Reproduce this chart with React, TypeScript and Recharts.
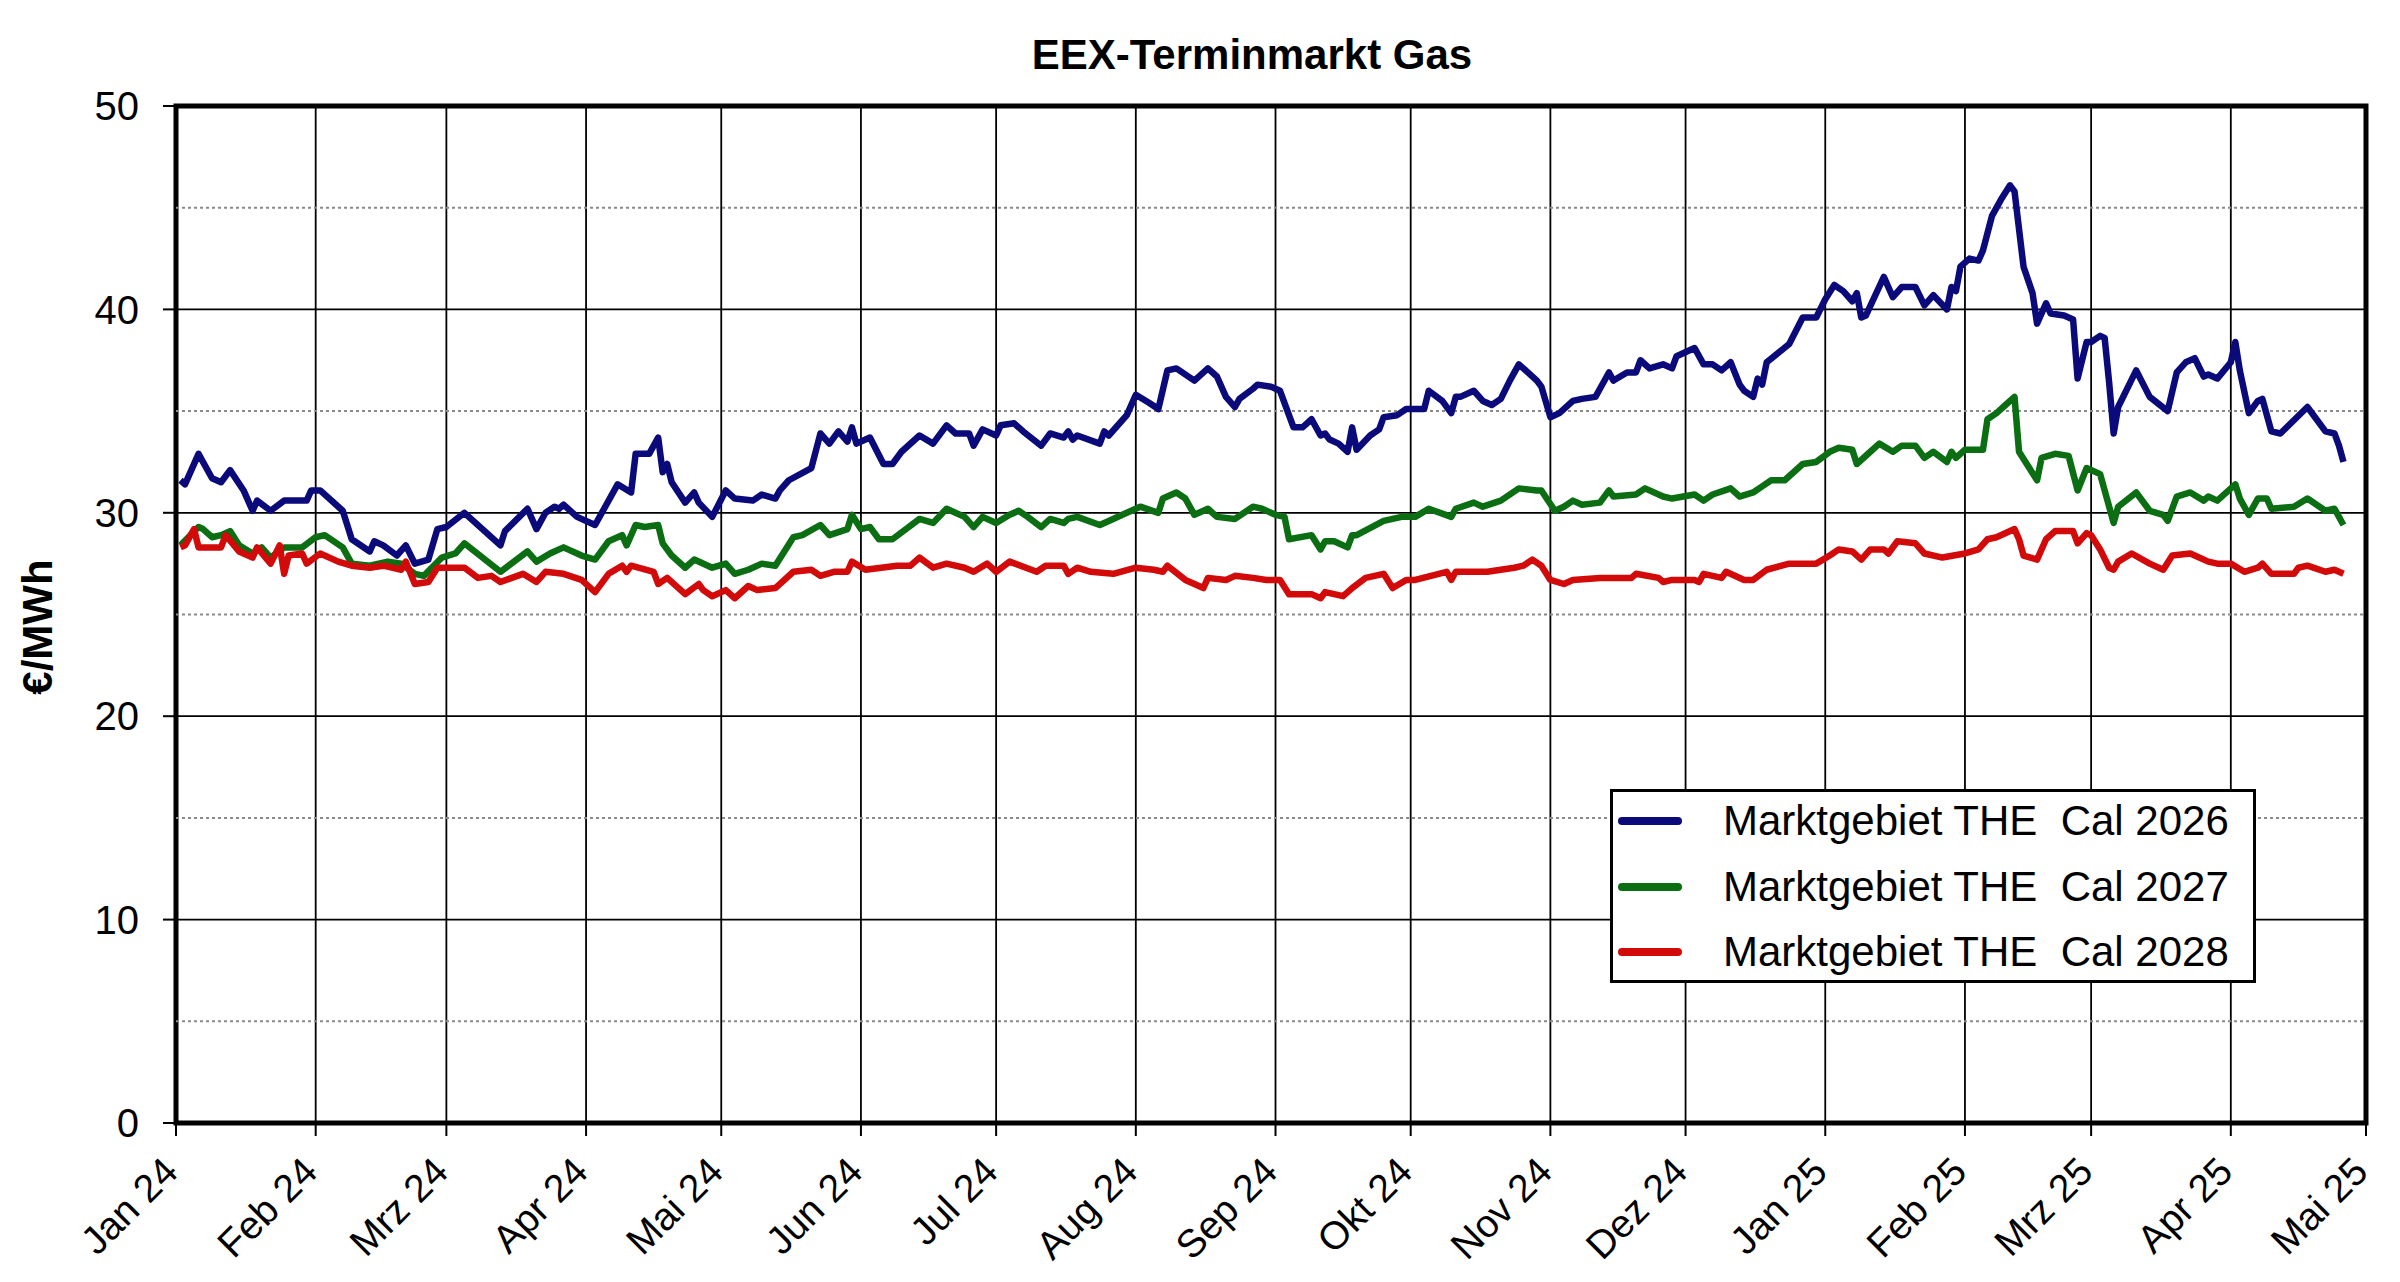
import React from "react";
import {
  LineChart,
  Line,
  XAxis,
  YAxis,
  CartesianGrid,
  ReferenceLine,
  ReferenceArea,
} from "recharts";

const FONT = "'Liberation Sans', Arial, sans-serif";

// x axis: days counted from 1 Jan 2024
const MONTH_DAYS = [0, 31, 60, 91, 121, 152, 182, 213, 244, 274, 305, 335, 366, 397, 425, 456, 486];
const MONTH_LABELS = [
  "Jan 24", "Feb 24", "Mrz 24", "Apr 24", "Mai 24", "Jun 24", "Jul 24", "Aug 24",
  "Sep 24", "Okt 24", "Nov 24", "Dez 24", "Jan 25", "Feb 25", "Mrz 25", "Apr 25", "Mai 25",
];
const Y_TICKS = [0, 10, 20, 30, 40, 50];
const Y_MINOR = [5, 15, 25, 35, 45];

// [day, €/MWh]
const CAL_2026: [number, number][] = [
  [1, 31.6], [2, 31.4], [5, 32.9], [8, 31.7], [10, 31.5], [12, 32.1], [15, 31.1], [17, 30.1],
  [18, 30.6], [21, 30.1], [24, 30.6], [29, 30.6], [30, 31.1], [32, 31.1], [37, 30.1], [39, 28.7],
  [43, 28.1], [44, 28.6], [46, 28.4], [49, 27.9], [51, 28.4], [53, 27.5], [56, 27.7], [58, 29.2],
  [60, 29.3], [64, 30.0], [68, 29.2], [72, 28.4], [73, 29.1], [78, 30.2], [80, 29.2], [82, 30.0],
  [84, 30.3], [85, 30.2], [86, 30.4], [89, 29.8], [93, 29.4], [95, 30.2], [98, 31.4], [101, 31.0],
  [102, 32.9], [105, 32.9], [107, 33.7], [108, 32.0], [109, 32.4], [110, 31.5], [113, 30.5],
  [115, 31.0], [116, 30.5], [119, 29.8], [122, 31.1], [124, 30.7], [128, 30.6], [130, 30.9],
  [133, 30.7], [134, 31.1], [136, 31.6], [141, 32.2], [143, 33.9], [145, 33.4], [147, 34.0],
  [149, 33.5], [150, 34.2], [151, 33.4], [154, 33.7], [157, 32.4], [159, 32.4], [161, 33.0],
  [165, 33.8], [168, 33.4], [171, 34.3], [173, 33.9], [176, 33.9], [177, 33.3], [179, 34.1],
  [182, 33.8], [183, 34.3], [186, 34.4], [188, 34.0], [192, 33.3], [194, 33.9], [197, 33.7],
  [198, 34.0], [199, 33.6], [200, 33.8], [205, 33.4], [206, 34.0], [207, 33.8], [211, 34.8],
  [213, 35.8], [216, 35.4], [218, 35.1], [220, 37.0], [222, 37.1], [226, 36.5], [229, 37.1],
  [231, 36.7], [233, 35.7], [235, 35.2], [236, 35.6], [239, 36.1], [240, 36.3], [243, 36.2],
  [245, 36.0], [248, 34.2], [250, 34.2], [252, 34.6], [254, 33.8], [255, 33.9], [256, 33.6],
  [258, 33.4], [260, 33.0], [261, 34.2], [262, 33.1], [265, 33.8], [267, 34.1], [268, 34.7],
  [271, 34.8], [273, 35.1], [277, 35.1], [278, 36.0], [281, 35.5], [283, 34.9], [284, 35.7],
  [285, 35.7], [288, 36.0], [290, 35.5], [292, 35.3], [294, 35.6], [296, 36.5], [298, 37.3],
  [300, 36.9], [302, 36.5], [303, 36.2], [305, 34.7], [307, 34.9], [310, 35.5], [312, 35.6],
  [315, 35.7], [316, 36.1], [318, 36.9], [319, 36.5], [322, 36.9], [324, 36.9], [325, 37.5],
  [327, 37.1], [330, 37.3], [332, 37.1], [333, 37.7], [337, 38.1], [339, 37.3], [341, 37.3],
  [343, 37.0], [345, 37.4], [347, 36.3], [348, 36.0], [350, 35.7], [351, 36.6], [352, 36.3],
  [353, 37.4], [358, 38.3], [361, 39.6], [364, 39.6], [366, 40.5], [368, 41.2], [370, 40.9],
  [372, 40.4], [373, 40.8], [374, 39.6], [375, 39.7], [379, 41.6], [381, 40.6], [383, 41.1],
  [386, 41.1], [388, 40.2], [390, 40.7], [393, 40.0], [394, 41.1], [395, 40.9], [396, 42.1],
  [398, 42.5], [400, 42.4], [401, 42.9], [403, 44.6], [405, 45.4], [407, 46.1], [408, 45.8],
  [410, 42.1], [412, 40.8], [413, 39.3], [415, 40.3], [416, 39.8], [419, 39.7], [421, 39.5],
  [422, 36.6], [424, 38.4], [425, 38.4], [427, 38.7], [428, 38.6], [429, 36.4], [430, 33.9],
  [431, 35.2], [435, 37.0], [438, 35.7], [442, 35.0], [444, 36.9], [446, 37.4], [448, 37.6],
  [450, 36.7], [451, 36.8], [453, 36.6], [456, 37.4], [457, 38.4], [458, 37.0], [460, 34.9],
  [462, 35.5], [463, 35.6], [465, 34.0], [467, 33.9], [473, 35.2], [477, 34.0], [479, 33.9],
  [480, 33.3], [481, 32.5],
];

const CAL_2027: [number, number][] = [
  [1, 28.4], [5, 29.3], [6, 29.2], [8, 28.8], [10, 28.9], [12, 29.1], [14, 28.4], [17, 28.0],
  [19, 28.3], [21, 27.8], [24, 28.3], [28, 28.3], [31, 28.8], [33, 28.9], [37, 28.3], [39, 27.5],
  [43, 27.4], [47, 27.6], [50, 27.5], [53, 27.0], [55, 26.9], [59, 27.8], [62, 28.0], [64, 28.5],
  [68, 27.8], [72, 27.1], [78, 28.1], [80, 27.6], [83, 28.0], [86, 28.3], [90, 27.9], [93, 27.7],
  [96, 28.6], [99, 28.9], [100, 28.4], [102, 29.4], [104, 29.3], [107, 29.4], [108, 28.5],
  [110, 27.9], [113, 27.3], [115, 27.7], [119, 27.3], [122, 27.5], [124, 27.0], [127, 27.2],
  [130, 27.5], [133, 27.4], [137, 28.8], [139, 28.9], [143, 29.4], [145, 28.9], [149, 29.2],
  [150, 29.9], [152, 29.2], [154, 29.3], [156, 28.7], [159, 28.7], [165, 29.7], [168, 29.5],
  [171, 30.2], [175, 29.8], [177, 29.3], [179, 29.8], [182, 29.5], [185, 29.9], [187, 30.1],
  [189, 29.8], [192, 29.3], [194, 29.7], [197, 29.5], [198, 29.7], [200, 29.8], [205, 29.4],
  [207, 29.6], [211, 30.0], [214, 30.3], [218, 30.0], [219, 30.7], [222, 31.0], [224, 30.7],
  [226, 29.9], [229, 30.2], [231, 29.8], [235, 29.7], [239, 30.3], [241, 30.2], [244, 29.9],
  [246, 29.8], [247, 28.7], [252, 28.9], [254, 28.2], [255, 28.6], [257, 28.6], [260, 28.3],
  [261, 28.9], [262, 28.9], [268, 29.6], [272, 29.8], [275, 29.8], [278, 30.2], [283, 29.8],
  [284, 30.2], [288, 30.5], [290, 30.3], [294, 30.6], [298, 31.2], [302, 31.1], [303, 31.1],
  [306, 30.1], [308, 30.3], [310, 30.6], [312, 30.4], [316, 30.5], [318, 31.1], [319, 30.8],
  [324, 30.9], [326, 31.2], [330, 30.8], [332, 30.7], [337, 30.9], [339, 30.6], [341, 30.9],
  [345, 31.2], [347, 30.8], [350, 31.0], [352, 31.3], [354, 31.6], [357, 31.6], [361, 32.4],
  [364, 32.5], [367, 33.0], [369, 33.2], [372, 33.1], [373, 32.4], [376, 33.0], [378, 33.4],
  [381, 33.0], [383, 33.3], [386, 33.3], [388, 32.7], [390, 33.0], [393, 32.5], [394, 33.0],
  [395, 32.7], [397, 33.1], [401, 33.1], [402, 34.6], [404, 34.9], [406, 35.3], [408, 35.7],
  [409, 33.0], [411, 32.3], [413, 31.6], [414, 32.7], [417, 32.9], [420, 32.8], [422, 31.1],
  [424, 32.2], [427, 31.9], [429, 30.3], [430, 29.5], [431, 30.3], [435, 31.0], [438, 30.1],
  [441, 29.9], [442, 29.6], [444, 30.8], [447, 31.0], [450, 30.6], [451, 30.8], [453, 30.6],
  [457, 31.4], [458, 30.7], [460, 29.9], [462, 30.7], [464, 30.7], [465, 30.2], [470, 30.3],
  [473, 30.7], [477, 30.1], [479, 30.2], [481, 29.4],
];

const CAL_2028: [number, number][] = [
  [1, 28.3], [2, 28.4], [4, 29.2], [5, 28.3], [10, 28.3], [11, 28.9], [14, 28.1], [17, 27.8],
  [18, 28.3], [21, 27.5], [23, 28.4], [24, 27.0], [25, 27.9], [28, 28.0], [29, 27.5], [32, 28.0],
  [36, 27.6], [39, 27.4], [43, 27.3], [46, 27.4], [50, 27.2], [51, 27.6], [53, 26.5], [56, 26.6],
  [58, 27.3], [64, 27.3], [67, 26.8], [70, 26.9], [72, 26.6], [77, 27.0], [80, 26.6], [82, 27.1],
  [86, 27.0], [90, 26.7], [93, 26.1], [96, 27.0], [99, 27.4], [100, 27.1], [101, 27.4],
  [106, 27.1], [107, 26.5], [109, 26.8], [113, 26.0], [116, 26.5], [117, 26.2], [119, 25.9],
  [122, 26.2], [124, 25.8], [127, 26.4], [129, 26.2], [133, 26.3], [137, 27.1], [141, 27.2],
  [143, 26.9], [146, 27.1], [149, 27.1], [150, 27.6], [153, 27.2], [160, 27.4], [163, 27.4],
  [165, 27.8], [168, 27.3], [171, 27.5], [175, 27.3], [177, 27.1], [180, 27.5], [182, 27.1],
  [185, 27.6], [191, 27.1], [193, 27.4], [197, 27.4], [198, 27.0], [200, 27.3], [203, 27.1],
  [208, 27.0], [213, 27.3], [217, 27.2], [219, 27.1], [220, 27.4], [224, 26.7], [228, 26.3],
  [229, 26.8], [233, 26.7], [235, 26.9], [239, 26.8], [242, 26.7], [245, 26.7], [247, 26.0],
  [252, 26.0], [254, 25.8], [255, 26.1], [259, 25.9], [261, 26.3], [264, 26.8], [268, 27.0],
  [270, 26.3], [273, 26.7], [275, 26.7], [282, 27.1], [283, 26.7], [284, 27.1], [291, 27.1],
  [297, 27.3], [299, 27.4], [301, 27.7], [303, 27.4], [305, 26.7], [308, 26.5], [310, 26.7],
  [316, 26.8], [323, 26.8], [324, 27.0], [329, 26.8], [330, 26.6], [332, 26.7], [337, 26.7],
  [338, 26.6], [339, 27.0], [343, 26.8], [344, 27.1], [348, 26.7], [350, 26.7], [353, 27.2],
  [358, 27.5], [364, 27.5], [367, 27.9], [369, 28.2], [372, 28.1], [374, 27.7], [376, 28.2],
  [379, 28.2], [380, 28.0], [382, 28.6], [386, 28.5], [388, 28.0], [392, 27.8], [397, 28.0],
  [400, 28.2], [402, 28.7], [404, 28.8], [408, 29.2], [409, 28.7], [410, 27.9], [413, 27.7],
  [415, 28.7], [417, 29.1], [421, 29.1], [422, 28.5], [424, 29.0], [425, 28.9], [427, 28.2],
  [429, 27.3], [430, 27.2], [431, 27.6], [434, 28.0], [438, 27.5], [441, 27.2], [443, 27.9],
  [447, 28.0], [451, 27.6], [453, 27.5], [456, 27.5], [459, 27.1], [462, 27.3], [463, 27.5],
  [465, 27.0], [470, 27.0], [471, 27.3], [473, 27.4], [477, 27.1], [479, 27.2], [481, 27.0],
];

const SERIES = [
  { name: "Marktgebiet THE  Cal 2026", color: "#0a0a7a", points: CAL_2026 },
  { name: "Marktgebiet THE  Cal 2027", color: "#0b6e12", points: CAL_2027 },
  { name: "Marktgebiet THE  Cal 2028", color: "#d20a0a", points: CAL_2028 },
];

const toRows = (pts: [number, number][]) => pts.map(([day, value]) => ({ day, value }));

// eslint-disable-next-line @typescript-eslint/no-explicit-any
function MonthTick({ x, y, payload }: any) {
  const label = MONTH_LABELS[MONTH_DAYS.indexOf(payload.value)];
  return (
    <g transform={`translate(${x + 4},${y + 36})`}>
      <text
        textAnchor="end"
        transform="rotate(-45)"
        fontSize={39}
        fontFamily={FONT}
        fill="#000"
      >
        {label}
      </text>
    </g>
  );
}

export default function App() {
  return (
    <div
      style={{
        position: "absolute",
        left: 0,
        top: 0,
        width: 2400,
        height: 1282,
        background: "#fff",
        fontFamily: FONT,
      }}
    >
      <LineChart
        width={2400}
        height={1282}
        margin={{ top: 106, right: 34, left: 0, bottom: 0 }}
      >
        <CartesianGrid stroke="#000" strokeWidth={1.8} />
        {Y_MINOR.map((v) => (
          <ReferenceLine
            key={v}
            y={v}
            stroke="#8a8a8a"
            strokeWidth={2}
            strokeDasharray="3 3"
          />
        ))}
        <XAxis
          type="number"
          dataKey="day"
          domain={[0, 486]}
          ticks={MONTH_DAYS}
          interval={0}
          height={159}
          axisLine={false}
          tickSize={13}
          tickLine={{ stroke: "#000", strokeWidth: 2 }}
          tick={<MonthTick />}
          allowDataOverflow
        />
        <YAxis
          type="number"
          domain={[0, 50]}
          ticks={Y_TICKS}
          interval={0}
          width={176}
          axisLine={false}
          tickSize={13}
          tickMargin={24}
          tickLine={{ stroke: "#000", strokeWidth: 2 }}
          tick={{ fontSize: 40, fill: "#000", fontFamily: FONT }}
        />
        {SERIES.map((s) => (
          <Line
            key={s.name}
            data={toRows(s.points)}
            dataKey="value"
            name={s.name}
            type="linear"
            stroke={s.color}
            strokeWidth={6.5}
            strokeLinejoin="round"
            dot={false}
            activeDot={false}
            isAnimationActive={false}
          />
        ))}
        <ReferenceArea
          x1={0}
          x2={486}
          y1={0}
          y2={50}
          fill="none"
          stroke="#000"
          strokeWidth={5}
          ifOverflow="visible"
        />
      </LineChart>

      <div
        style={{
          position: "absolute",
          left: 1252,
          top: 34,
          transform: "translateX(-50%)",
          fontSize: 42,
          lineHeight: 1,
          fontWeight: "bold",
          whiteSpace: "nowrap",
        }}
      >
        EEX-Terminmarkt Gas
      </div>

      <div
        style={{
          position: "absolute",
          left: 38,
          top: 627,
          transform: "translate(-50%, -50%) rotate(-90deg)",
          fontSize: 42,
          lineHeight: 1,
          fontWeight: "bold",
          whiteSpace: "nowrap",
        }}
      >
        €/MWh
      </div>

      <div
        style={{
          position: "absolute",
          left: 1610,
          top: 789,
          width: 646,
          height: 194,
          boxSizing: "border-box",
          border: "3px solid #000",
          background: "#fff",
        }}
      >
        {SERIES.map((s, i) => (
          <div
            key={s.name}
            style={{
              position: "absolute",
              left: 0,
              top: 29 + i * 65.5 - 21,
              height: 42,
              width: "100%",
            }}
          >
            <div
              style={{
                position: "absolute",
                left: 5,
                top: 17,
                width: 64,
                height: 8,
                borderRadius: 4,
                background: s.color,
              }}
            />
            <div
              style={{
                position: "absolute",
                left: 110,
                top: 0,
                fontSize: 42,
                lineHeight: "42px",
                whiteSpace: "pre",
                color: "#000",
              }}
            >
              {s.name}
            </div>
          </div>
        ))}
      </div>
    </div>
  );
}
